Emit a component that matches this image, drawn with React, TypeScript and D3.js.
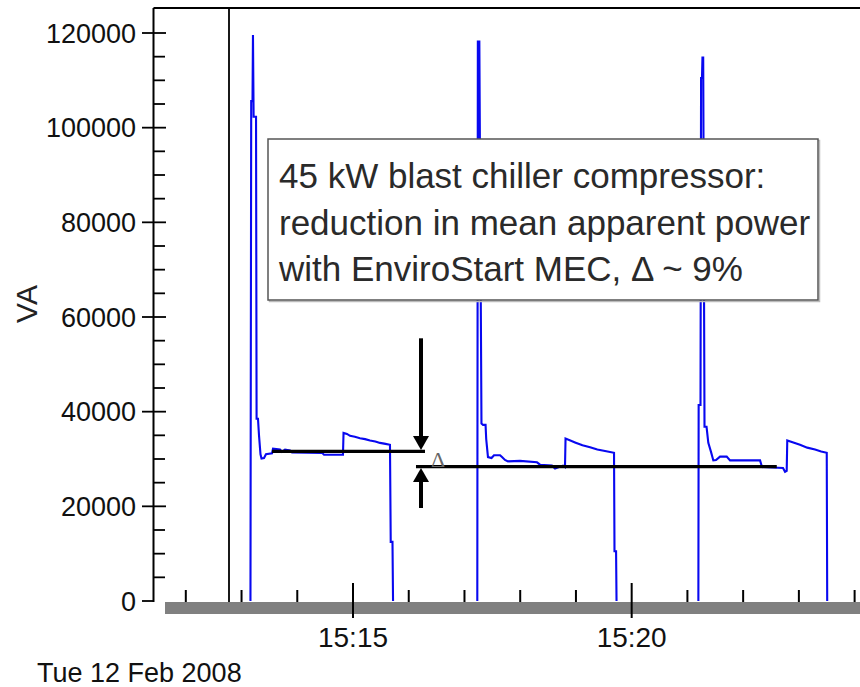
import React, { useEffect, useRef } from 'react'
import * as d3 from 'd3'

// times are seconds after 15:00:00, Tue 12 Feb 2008
const cycle1Sec = [789.6, 790.4, 791.8, 792.3, 793.0, 795.6, 796.2, 797.7, 798.8, 800.4, 801.5, 804.2, 806.3, 812.8, 813.9, 821.4, 823.6, 826.8, 832.2, 834.3, 866.6, 868.8, 889.2, 889.8, 893.5, 896.8, 902.0, 907.5, 913.0, 918.3, 924.0, 929.1, 935.0, 939.8, 940.6, 942.5, 943.1]
const cycle1VA = [0, 105600, 105600, 119600, 102300, 102300, 38500, 38500, 35000, 31000, 30100, 30200, 31000, 31200, 32200, 32000, 31500, 32000, 31800, 31400, 31300, 30900, 30900, 35500, 35300, 34900, 34700, 34400, 34200, 33900, 33700, 33400, 33200, 33000, 12500, 12500, 0]

const cycle2Sec = [1033.8, 1034.4, 1036.0, 1038.3, 1040.0, 1042.7, 1043.4, 1045.3, 1049.1, 1051.8, 1058.3, 1060.4, 1063.6, 1066.9, 1079.8, 1098.1, 1101.3, 1114.2, 1117.5, 1126.1, 1128.2, 1128.8, 1134.0, 1139.0, 1147.0, 1155.2, 1163.0, 1171.3, 1181.0, 1181.5, 1183.2, 1183.7]
const cycle2VA = [0, 118200, 118200, 37500, 37200, 37200, 34200, 30400, 30200, 30800, 30800, 30400, 29800, 29500, 29600, 29300, 28800, 28600, 28000, 28600, 28300, 34300, 33900, 33500, 32900, 32500, 32000, 31700, 31300, 10500, 10500, 0]

const cycle3Sec = [1271.8, 1272.1, 1274.1, 1274.7, 1275.7, 1276.2, 1277.0, 1278.4, 1280.6, 1282.5, 1285.4, 1287.9, 1290.8, 1295.1, 1302.3, 1305.9, 1338.2, 1340.3, 1362.9, 1365.1, 1366.9, 1367.5, 1374.0, 1381.2, 1389.0, 1397.4, 1404.0, 1410.0, 1410.5]
const cycle3VA = [0, 41400, 41400, 110500, 110500, 114800, 114800, 36800, 36800, 33400, 31500, 29700, 29800, 30500, 30500, 29700, 29700, 28300, 28100, 27300, 27500, 33900, 33500, 33000, 32400, 32000, 31600, 31300, 0]

// mean levels before / after the MEC
const meanStartSec = [812.8, 967.8]
const meanEndSec = [977.5, 1356.2]
const meanVA = [31600, 28400]
const arrowSec = 973.2
const arrowFromVA = [55500, 19650]
const cursorSec = 766.5

const yMajorTicks = [0, 20000, 40000, 60000, 80000, 100000, 120000]
const yMinorStep = 5000
const xDomainSec = [697.6, 1445.8]
const dateLabel = 'Tue 12 Feb 2008'
const noteLines = [
  '45 kW blast chiller compressor:',
  'reduction in mean apparent power',
  'with EnviroStart MEC, \u0394 ~ 9%'
]

const base = new Date(2008, 1, 12, 15, 0, 0).getTime()
const toDate = (s: number) => new Date(base + s * 1000)

const App = () => {
  const svgRef = useRef<SVGSVGElement>(null)

  useEffect(() => {
    const width = 860
    const height = 687
    const svg = d3.select(svgRef.current)
      .attr('width', width)
      .attr('height', height)
      .style('position', 'absolute')
      .style('left', 0)
      .style('top', 0)
      .style('background', '#fff')
    svg.selectAll('*').remove()

    const font = "'Liberation Sans', Arial, sans-serif"
    const axisX = 153.5
    const topY = 8
    const barTop = 602

    const x = d3.scaleTime()
      .domain(xDomainSec.map(toDate))
      .range([165, 860])
    const y = d3.scaleLinear()
      .domain([0, 120000])
      .range([601, 33])

    // frame: top border, y axis, cursor line
    svg.append('line').attr('x1', axisX).attr('x2', width).attr('y1', topY).attr('y2', topY)
      .attr('stroke', '#000').attr('stroke-width', 1.8)
    svg.append('line').attr('x1', axisX).attr('x2', axisX).attr('y1', topY).attr('y2', barTop)
      .attr('stroke', '#000').attr('stroke-width', 2)
    svg.append('line').attr('x1', x(toDate(cursorSec))).attr('x2', x(toDate(cursorSec)))
      .attr('y1', topY).attr('y2', barTop)
      .attr('stroke', '#000').attr('stroke-width', 1.8)

    // y ticks
    const minor = d3.range(0, 120001, yMinorStep).filter(v => !yMajorTicks.includes(v))
    svg.append('g').selectAll('line').data(minor).join('line')
      .attr('x1', axisX).attr('x2', 165)
      .attr('y1', d => y(d)).attr('y2', d => y(d))
      .attr('stroke', '#000').attr('stroke-width', 1.8)
    svg.append('g').selectAll('line').data(yMajorTicks).join('line')
      .attr('x1', 142).attr('x2', d => d === 0 ? axisX : 166)
      .attr('y1', d => y(d)).attr('y2', d => y(d))
      .attr('stroke', '#000').attr('stroke-width', 1.8)
    svg.append('g').selectAll('text').data(yMajorTicks).join('text')
      .attr('x', 136).attr('y', d => y(d)).attr('dy', '0.36em')
      .attr('text-anchor', 'end')
      .style('font-family', font).style('font-size', '27px').style('fill', '#111')
      .text(d => d3.format('d')(d))

    svg.append('text')
      .attr('transform', 'translate(37,304) rotate(-90)')
      .attr('text-anchor', 'middle')
      .style('font-family', font).style('font-size', '30px').style('fill', '#222')
      .text('VA')

    // trace
    const line = d3.line<[number, number]>()
      .x(d => x(toDate(d[0])))
      .y(d => y(d[1]))
    const cycles = [
      [cycle1Sec, cycle1VA],
      [cycle2Sec, cycle2VA],
      [cycle3Sec, cycle3VA]
    ]
    cycles.forEach(([secs, vals]) => {
      svg.append('path')
        .datum(secs.map((s, i) => [s, vals[i]] as [number, number]))
        .attr('d', line)
        .attr('fill', 'none')
        .attr('stroke', '#0808f0')
        .attr('stroke-width', 2.1)
    })

    // mean lines
    svg.append('g').selectAll('line').data(meanVA).join('line')
      .attr('x1', (d, i) => x(toDate(meanStartSec[i])))
      .attr('x2', (d, i) => x(toDate(meanEndSec[i])))
      .attr('y1', d => y(d)).attr('y2', d => y(d))
      .attr('stroke', '#000').attr('stroke-width', 3.2)

    // arrows
    const ax = x(toDate(arrowSec))
    const downTip = y(meanVA[0]) - 1.5
    const upTip = y(meanVA[1]) + 1.5
    svg.append('line').attr('x1', ax).attr('x2', ax)
      .attr('y1', y(arrowFromVA[0])).attr('y2', downTip - 10)
      .attr('stroke', '#000').attr('stroke-width', 4)
    svg.append('path')
      .attr('d', `M${ax - 8},${downTip - 14}L${ax + 8},${downTip - 14}L${ax},${downTip}Z`)
      .attr('fill', '#000')
    svg.append('line').attr('x1', ax).attr('x2', ax)
      .attr('y1', y(arrowFromVA[1])).attr('y2', upTip + 10)
      .attr('stroke', '#000').attr('stroke-width', 4)
    svg.append('path')
      .attr('d', `M${ax - 8},${upTip + 14}L${ax + 8},${upTip + 14}L${ax},${upTip}Z`)
      .attr('fill', '#000')
    svg.append('text')
      .attr('x', ax + 17).attr('y', y((meanVA[0] + meanVA[1]) / 2) + 8)
      .attr('text-anchor', 'middle')
      .style('font-family', "'Liberation Serif', 'DejaVu Serif', serif")
      .style('font-size', '22px').style('fill', '#666')
      .text('\u0394')

    // annotation box
    svg.append('rect').attr('x', 269.5).attr('y', 140.5).attr('width', 550).attr('height', 161)
      .attr('fill', 'none').attr('stroke', '#bbb').attr('stroke-width', 1.5)
    svg.append('rect').attr('x', 268).attr('y', 139).attr('width', 550).attr('height', 161)
      .attr('fill', '#fff').attr('stroke', '#555').attr('stroke-width', 1.5)
    svg.append('g').selectAll('text').data(noteLines).join('text')
      .attr('x', 279).attr('y', (d, i) => 188 + i * 46.5)
      .style('font-family', font).style('font-size', '35px').style('fill', '#2a2a2a')
      .text(d => d)

    // time axis
    svg.append('rect').attr('x', 165).attr('y', barTop).attr('width', width - 165).attr('height', 12)
      .attr('fill', '#808080')
    const minutes = x.ticks(d3.timeMinute.every(1))
    svg.append('g').selectAll('line').data(minutes).join('line')
      .attr('x1', d => x(d)).attr('x2', d => x(d))
      .attr('y1', d => d.getMinutes() % 5 === 0 ? 583 : 590)
      .attr('y2', d => d.getMinutes() % 5 === 0 ? 618 : barTop)
      .attr('stroke', '#000').attr('stroke-width', 2)
    svg.append('g').selectAll('text').data(minutes.filter(d => d.getMinutes() % 5 === 0)).join('text')
      .attr('x', d => x(d)).attr('y', 647)
      .attr('text-anchor', 'middle')
      .style('font-family', font).style('font-size', '28px').style('fill', '#111')
      .text(d => d3.timeFormat('%H:%M')(d))
    svg.append('text')
      .attr('x', 37).attr('y', 682)
      .style('font-family', font).style('font-size', '27px').style('fill', '#111')
      .text(dateLabel)
  }, [])

  return <svg ref={svgRef}></svg>
}

export default App
